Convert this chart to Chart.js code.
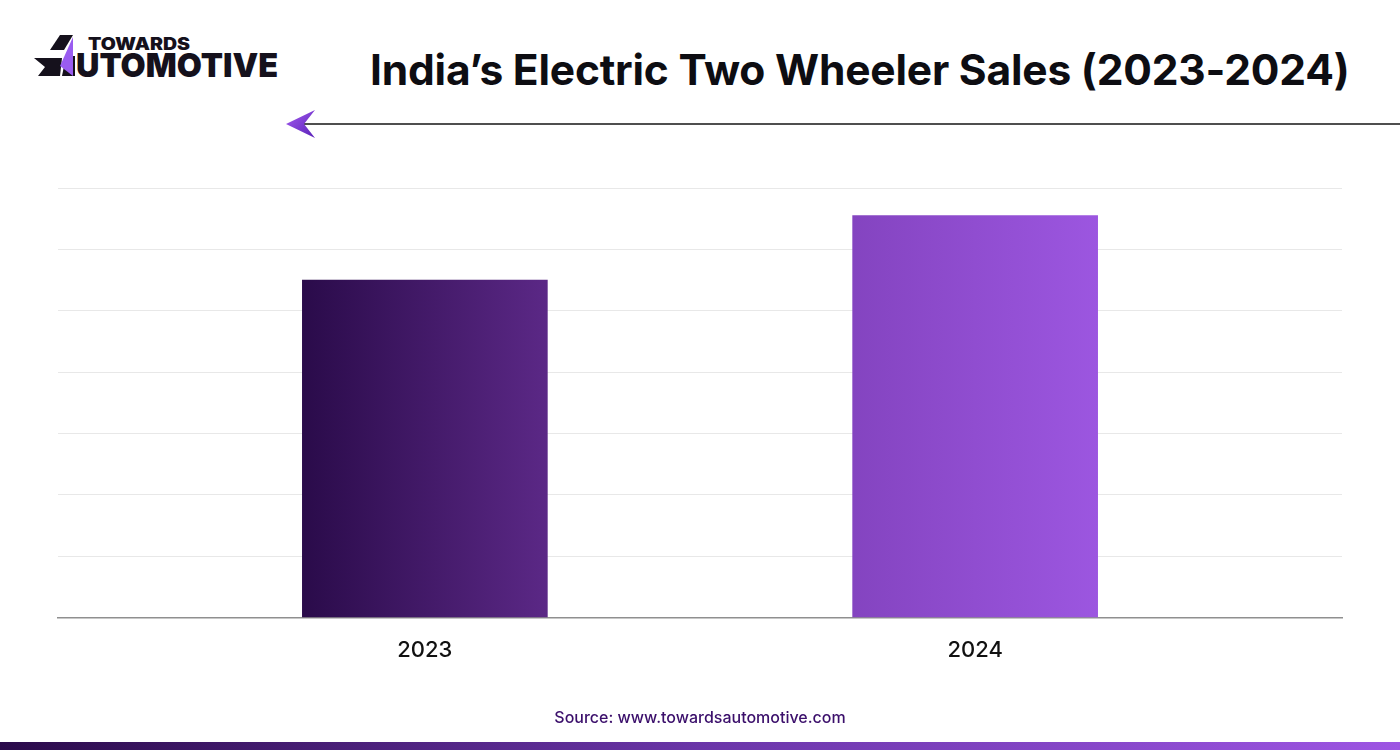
<!DOCTYPE html>
<html>
<head>
<meta charset="utf-8">
<script src="https://cdn.jsdelivr.net/npm/chart.js@4.4.1/dist/chart.umd.min.js"></script>
<style>
body{margin:0;width:1400px;height:750px;background:#fff;position:relative;overflow:hidden;font-family:Inter,"Noto Sans",sans-serif}
#wrap{position:absolute;left:0;top:0;width:1400px;height:750px}
.title{position:absolute;left:370px;top:44px;font-size:42.5px;font-weight:700;color:#0d0d12;white-space:nowrap;letter-spacing:-0.2px}
.source{position:absolute;left:0;width:1400px;top:707px;text-align:center;font-size:16px;font-weight:500;color:#3b0f6b}
.bottom-bar{position:absolute;left:0;top:742px;width:1400px;height:8px;background:linear-gradient(90deg,#2a0a4a,#6a35a8 50%,#9d55e3)}
svg.deco{position:absolute;left:0;top:0}
</style>
</head>
<body>
<svg class="deco" width="1400" height="160">
  <defs>
    <linearGradient id="arrowGrad" x1="0" y1="0" x2="1" y2="1">
      <stop offset="0" stop-color="#a45cf0"/>
      <stop offset="1" stop-color="#5a22b8"/>
    </linearGradient>
  </defs>
  <!-- logo -->
  <polygon points="60,35 73,35 64,50 50,50" fill="#15111c"/>
  <polygon points="34,58 62,58 60,76 38,76 45,67" fill="#15111c"/>
  <polygon points="66,56 75,56 75,76 62,76" fill="#15111c"/>
  <polygon points="73,37 60,66 73,76" fill="#9a5cf0"/>
  <text x="88" y="50" font-family="Inter" font-weight="900" font-size="17" fill="#15111c" textLength="102" lengthAdjust="spacingAndGlyphs">TOWARDS</text>
  <text x="76" y="77" font-family="Inter" font-weight="900" font-size="33" fill="#15111c" textLength="202" lengthAdjust="spacingAndGlyphs">UTOMOTIVE</text>
  <!-- arrow -->
  <line x1="303" y1="124" x2="1400" y2="124" stroke="#141414" stroke-width="1.5"/>
  <polygon points="286,124 315,110 304,124 315,138" fill="url(#arrowGrad)"/>
</svg>
<div class="title">India’s Electric Two Wheeler Sales (2023-2024)</div>
<div id="wrap"><canvas id="sales-chart"></canvas></div>
<div class="source">Source: www.towardsautomotive.com</div>
<div class="bottom-bar"></div>
<script>
// data
const years = ['2023', '2024'];
const sales = [5.5, 6.55];
const gridSteps = 7;

// bar gradients (left -> right)
const barFrom = ['#2a0b4a', '#8444c0'];
const barTo = ['#5b2886', '#9c56e0'];
const barWidth = 245;

function barFill(context) {
    const chart = context.chart;
    const xScale = chart.scales.x;
    if (!chart.chartArea || !xScale) return barFrom[context.dataIndex];
    const cx = xScale.getPixelForValue(context.dataIndex);
    const g = chart.ctx.createLinearGradient(cx - barWidth / 2, 0, cx + barWidth / 2, 0);
    g.addColorStop(0, barFrom[context.dataIndex]);
    g.addColorStop(1, barTo[context.dataIndex]);
    return g;
}

let canvas = document.getElementById('sales-chart');
new Chart(canvas.getContext('2d'), {
    type: 'bar',
    data: {
        datasets: [{
            data: sales.map((v, i) => ({x: i, y: v})),
            backgroundColor: barFill,
            borderWidth: 0,
            barThickness: barWidth
        }]
    },
    options: {
        responsive: true,
        maintainAspectRatio: false,
        animation: false,
        layout: {padding: {left: 58, right: 58, top: 188, bottom: 66}},
        plugins: {legend: {display: false}, tooltip: {enabled: false}},
        scales: {
            x: {
                type: 'linear',
                offset: false,
                min: -2 / 3,
                max: 5 / 3,
                afterBuildTicks: function (axis) {
                    axis.ticks = years.map((y, i) => ({value: i}));
                },
                grid: {display: false, drawTicks: false},
                border: {display: true, color: '#8f8f8f', width: 1.5},
                ticks: {
                    padding: 20,
                    color: '#111111',
                    font: {family: 'Inter', size: 22, weight: '500'},
                    callback: (v) => years[v]
                }
            },
            y: {
                min: 0,
                max: gridSteps,
                ticks: {display: false, stepSize: 1},
                grid: {color: '#e8e8e8', lineWidth: 1, drawTicks: false},
                border: {display: false}
            }
        }
    }
});
</script>
</body>
</html>
